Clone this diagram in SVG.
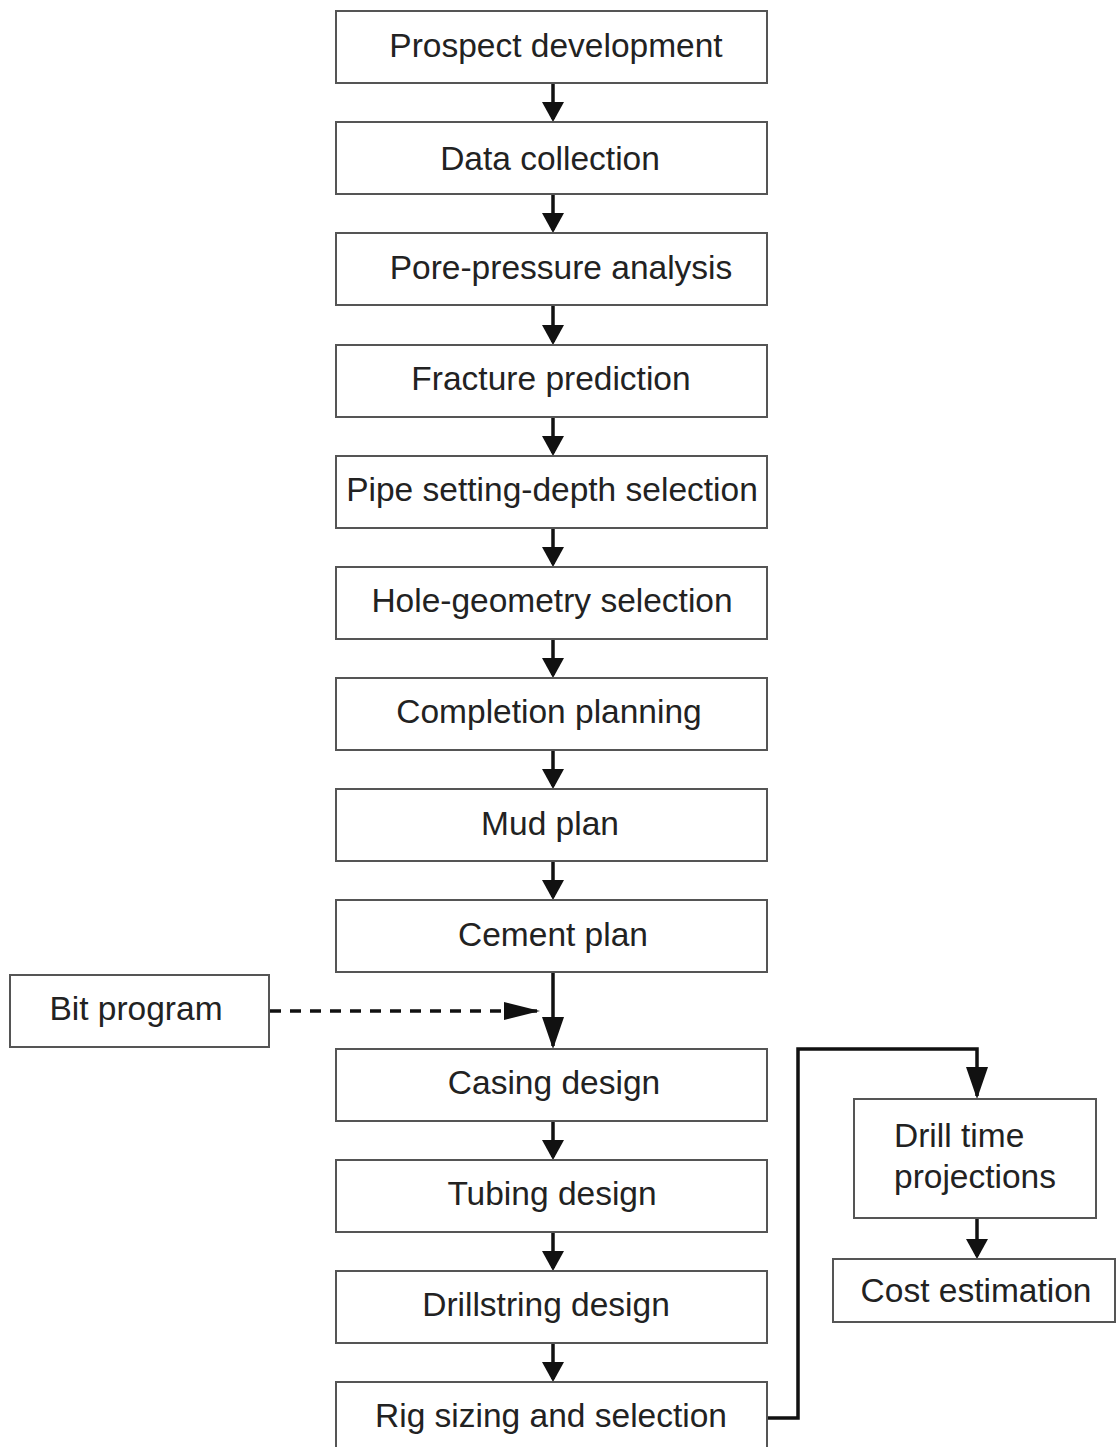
<svg xmlns="http://www.w3.org/2000/svg" width="1116" height="1447" viewBox="0 0 1116 1447">
<style>
.box{fill:#ffffff;stroke:#555555;stroke-width:2}
.t{font-family:"Liberation Sans",Arial,sans-serif;font-size:33.5px;fill:#222222;text-anchor:middle}
.tl{font-family:"Liberation Sans",Arial,sans-serif;font-size:33.5px;fill:#222222}
.c{fill:none;stroke:#111111;stroke-width:3.5}
.d{fill:none;stroke:#111111;stroke-width:3.5;stroke-dasharray:11 9}
</style>
<defs>
<marker id="ah" markerUnits="userSpaceOnUse" viewBox="0 0 20 22" refX="17" refY="11" markerWidth="20" markerHeight="22" orient="auto">
<path d="M0,0 L20,11 L0,22 Z" fill="#111111"/>
</marker>
<marker id="ahL" markerUnits="userSpaceOnUse" viewBox="0 0 32 22" refX="29" refY="11" markerWidth="32" markerHeight="22" orient="auto">
<path d="M0,0 L32,11 L0,22 Z" fill="#111111"/>
</marker>
<marker id="ahD" markerUnits="userSpaceOnUse" viewBox="0 0 36 18" refX="33" refY="9" markerWidth="36" markerHeight="18" orient="auto">
<path d="M0,0 L36,9 L0,18 Z" fill="#111111"/>
</marker>
</defs>
<rect width="1116" height="1447" fill="#ffffff"/>
<g id="connectors">
<line class="c" x1="553" y1="83" x2="553" y2="119" marker-end="url(#ah)"/>
<line class="c" x1="553" y1="194" x2="553" y2="230" marker-end="url(#ah)"/>
<line class="c" x1="553" y1="305" x2="553" y2="342" marker-end="url(#ah)"/>
<line class="c" x1="553" y1="417" x2="553" y2="453" marker-end="url(#ah)"/>
<line class="c" x1="553" y1="528" x2="553" y2="564" marker-end="url(#ah)"/>
<line class="c" x1="553" y1="639" x2="553" y2="675" marker-end="url(#ah)"/>
<line class="c" x1="553" y1="750" x2="553" y2="786" marker-end="url(#ah)"/>
<line class="c" x1="553" y1="861" x2="553" y2="897" marker-end="url(#ah)"/>
<line class="c" x1="553" y1="972" x2="553" y2="1046" marker-end="url(#ahL)"/>
<line class="d" x1="270" y1="1011" x2="537" y2="1011" marker-end="url(#ahD)"/>
<line class="c" x1="553" y1="1121" x2="553" y2="1157" marker-end="url(#ah)"/>
<line class="c" x1="553" y1="1232" x2="553" y2="1268" marker-end="url(#ah)"/>
<line class="c" x1="553" y1="1343" x2="553" y2="1379" marker-end="url(#ah)"/>
<polyline class="c" points="767,1418 798,1418 798,1049 977,1049 977,1096" marker-end="url(#ahL)"/>
<line class="c" x1="977" y1="1219" x2="977" y2="1256" marker-end="url(#ah)"/>
</g>
<g id="n1"><rect class="box" x="336" y="11" width="431" height="72"/><text class="t" x="556" y="57">Prospect development</text></g>
<g id="n2"><rect class="box" x="336" y="122" width="431" height="72"/><text class="t" x="550" y="170">Data collection</text></g>
<g id="n3"><rect class="box" x="336" y="233" width="431" height="72"/><text class="t" x="561" y="279">Pore-pressure analysis</text></g>
<g id="n4"><rect class="box" x="336" y="345" width="431" height="72"/><text class="t" x="551" y="390">Fracture prediction</text></g>
<g id="n5"><rect class="box" x="336" y="456" width="431" height="72"/><text class="t" x="552" y="501">Pipe setting-depth selection</text></g>
<g id="n6"><rect class="box" x="336" y="567" width="431" height="72"/><text class="t" x="552" y="612">Hole-geometry selection</text></g>
<g id="n7"><rect class="box" x="336" y="678" width="431" height="72"/><text class="t" x="549" y="723">Completion planning</text></g>
<g id="n8"><rect class="box" x="336" y="789" width="431" height="72"/><text class="t" x="550" y="835">Mud plan</text></g>
<g id="n9"><rect class="box" x="336" y="900" width="431" height="72"/><text class="t" x="553" y="946">Cement plan</text></g>
<g id="bit"><rect class="box" x="10" y="975" width="259" height="72"/><text class="t" x="136" y="1020">Bit program</text></g>
<g id="n10"><rect class="box" x="336" y="1049" width="431" height="72"/><text class="t" x="554" y="1094">Casing design</text></g>
<g id="n11"><rect class="box" x="336" y="1160" width="431" height="72"/><text class="t" x="552" y="1205">Tubing design</text></g>
<g id="n12"><rect class="box" x="336" y="1271" width="431" height="72"/><text class="t" x="546" y="1316">Drillstring design</text></g>
<g id="n13"><rect class="box" x="336" y="1382" width="431" height="72"/><text class="t" x="551" y="1427">Rig sizing and selection</text></g>
<g id="drill"><rect class="box" x="854" y="1099" width="242" height="119"/><text class="tl" x="894" y="1147">Drill time</text><text class="tl" x="894" y="1188">projections</text></g>
<g id="cost"><rect class="box" x="833" y="1259" width="282" height="63"/><text class="t" x="976" y="1302">Cost estimation</text></g>
</svg>
